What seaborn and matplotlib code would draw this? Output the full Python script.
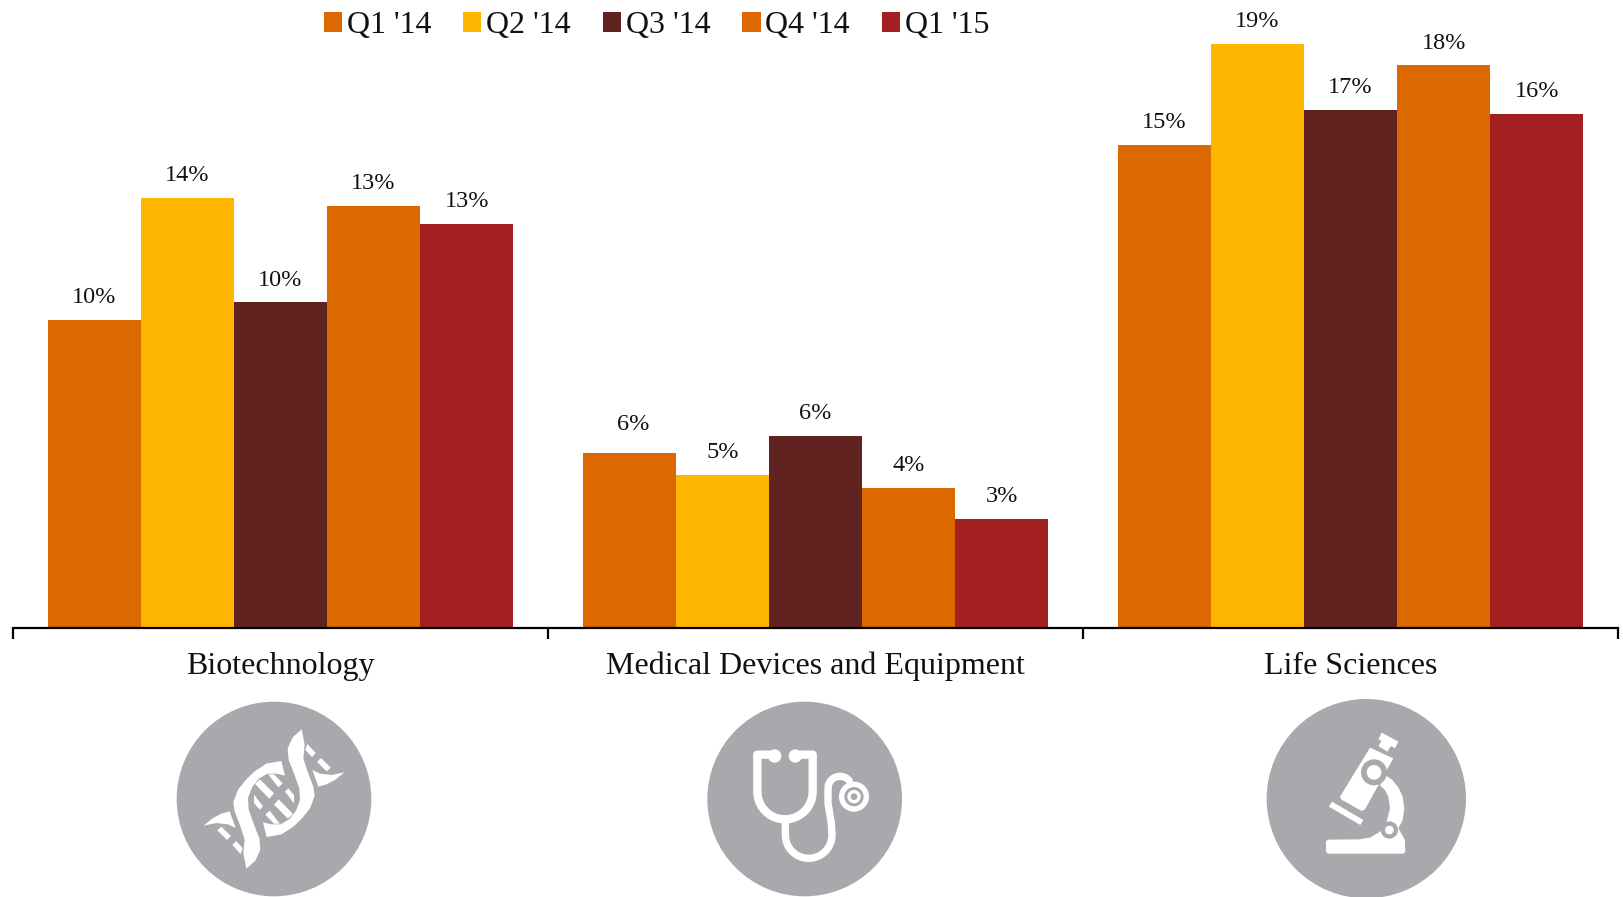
import numpy as np
import pandas as pd
import matplotlib
matplotlib.use('Agg')
import matplotlib.pyplot as plt
import seaborn as sns
from matplotlib.patches import Circle, PathPatch, Polygon
from matplotlib.path import Path
from matplotlib.transforms import Affine2D

# data
sectors = ['Biotechnology', 'Medical Devices and Equipment', 'Life Sciences']
quarters = ["Q1 '14", "Q2 '14", "Q3 '14", "Q4 '14", "Q1 '15"]
q1_14 = [9.83, 5.6, 15.42]
q2_14 = [13.73, 4.9, 18.67]
q3_14 = [10.4, 6.13, 16.55]
q4_14 = [13.48, 4.48, 17.97]
q1_15 = [12.92, 3.48, 16.42]
colors = ['#DC6900', '#FFB600', '#602320', '#DC6900', '#A32020']

rows = []
for q, vals in zip(quarters, [q1_14, q2_14, q3_14, q4_14, q1_15]):
    for s, v in zip(sectors, vals):
        rows.append({'sector': s, 'quarter': q, 'value': v})
df = pd.DataFrame(rows)

W, H = 1624, 897
GREY = '#A7A9AC'
sns.set_theme(style='white')
plt.rcParams['font.family'] = ['Liberation Serif', 'DejaVu Serif']

fig = plt.figure(figsize=(W / 100, H / 100), dpi=100)
ax = fig.add_axes([13 / W, 1 - 628 / H, 1605 / W, 628 / H])
sns.barplot(data=df, x='sector', y='value', hue='quarter', order=sectors,
            hue_order=quarters, palette=colors, width=0.87, gap=0,
            linewidth=0, saturation=1, ax=ax)

for c in ax.containers:
    ax.bar_label(c, fmt=lambda v: f'{round(v)}%', padding=8.5, fontsize=17.5, color='#111111')

# the first label of the middle group sits a little higher and to the right
mid_label = [x for x in ax.texts if x.get_text() == '6%'][0]
mid_label.set_position((mid_label.get_position()[0] + 3, mid_label.get_position()[1] + 4.5))

ax.set_xlim(-0.5, 2.5)
ax.set_ylim(0, 20.06)
ax.set_xlabel('')
ax.set_ylabel('')
ax.set_yticks([])
ax.set_xticks([-0.5, 0.5, 1.5, 2.5], minor=True)
ax.tick_params(axis='x', which='major', length=0, pad=17, labelsize=23, labelcolor='#111111')
ax.tick_params(axis='x', which='minor', length=8, width=1.6, color='black', bottom=True)
sns.despine(ax=ax, left=True)
ax.spines['bottom'].set_color('black')
ax.spines['bottom'].set_linewidth(1.6)
ax.patch.set_alpha(0)

ax.legend(loc='center', bbox_to_anchor=(0.401, 1 - 26 / 628), ncol=5, frameon=False,
          fontsize=23, handlelength=0.57, handleheight=0.57, handletextpad=0.15,
          columnspacing=1.0, borderpad=0, borderaxespad=0, labelcolor='#111111')

# icons, drawn in pixels of the picture
ov = fig.add_axes([0, 0, 1, 1], zorder=5)
ov.set_xlim(0, W)
ov.set_ylim(H, 0)
ov.axis('off')


def icon_tf(x0):
    return Affine2D().scale(1 / 3).translate(x0, 680) + ov.transData


def fill(pts, tf, color='white'):
    ov.add_patch(Polygon(pts, closed=True, fc=color, ec='none', transform=tf))


def disc(x, y, r, tf, color='white'):
    ov.add_patch(Circle((x, y), r, fc=color, ec='none', transform=tf))


def arc(x, y, r, a0, a1, n=24):
    a = np.radians(np.linspace(a0, a1, n))
    return list(zip(x + r * np.cos(a), y + r * np.sin(a)))


def stroke(pts, tf, lw):
    ov.add_patch(PathPatch(Path(pts), fc='none', ec='white', lw=lw, capstyle='round',
                           joinstyle='round', transform=tf))


# dna
tf = icon_tf(150)
disc(372, 357, 292, tf, GREY)
cx, cy = 372, 357
strand = [(455, 148), (464, 195), (460, 235), (474, 278), (490, 320), (494, 348), (480, 385),
          (456, 415), (430, 440), (395, 463), (350, 471), (339, 427), (365, 433), (392, 433),
          (418, 418), (438, 392), (450, 360), (448, 325), (432, 280), (416, 240), (413, 205),
          (428, 172)]
wing = [(583, 277), (555, 300), (530, 313), (505, 320), (487, 270), (510, 281), (545, 285)]
rungs = [[(472, 192), (497, 219), (486, 231), (466, 210)],
         [(513, 234), (542, 263), (530, 274), (501, 246)],
         [(330, 298), (372, 340), (358, 356), (315, 312)],
         [(355, 283), (372, 283), (398, 310), (385, 322)],
         [(405, 335), (415, 325), (432, 345), (432, 370)]]
for shape in [strand, wing] + rungs:
    fill(shape, tf)
    fill([(2 * cx - x, 2 * cy - y) for x, y in shape], tf)

# stethoscope
tf = icon_tf(690)
disc(344, 357, 292, tf, GREY)
stroke([(240, 224), (202, 224), (202, 335)] + arc(285, 335, 83, 180, 0) + [(368, 224), (330, 224)], tf, 6)
disc(254, 228, 20, tf)
disc(316, 228, 20, tf)
stroke([(286, 420), (286, 465)] + arc(356, 465, 70, 180, 0) + [(424, 430), (414, 370), (414, 335)]
       + arc(450, 325, 36, 190, 320), tf, 5.3)
ov.add_patch(Circle((492, 350), 37, fc='none', ec='white', lw=3.9, transform=tf))
ov.add_patch(Circle((492, 350), 15, fc='none', ec='white', lw=2.4, transform=tf))

# microscope
tf = icon_tf(1250)
disc(349, 356, 299, tf, GREY)
fill([(395, 158), (445, 185), (435, 205), (385, 178)], tf)
fill([(397, 180), (424, 195), (412, 215), (385, 198)], tf)
fill([(360, 203), (430, 235), (345, 388), (335, 393), (273, 358), (270, 350)], tf)
fill([(246, 365), (340, 420), (331, 435), (237, 380)], tf)
fill([(405, 285), (425, 298), (445, 322), (458, 350), (463, 385), (458, 420), (445, 445), (465, 480),
      (466, 515), (460, 521), (233, 521), (228, 515), (228, 485), (233, 479), (330, 478), (362, 472),
      (390, 455), (410, 425), (420, 385), (415, 350), (405, 330), (390, 316)], tf)
disc(372, 277, 39, tf, GREY)
disc(372, 277, 22, tf)
disc(418, 450, 26, tf, GREY)
disc(418, 450, 13, tf)

fig.savefig('out.png', dpi=100)
